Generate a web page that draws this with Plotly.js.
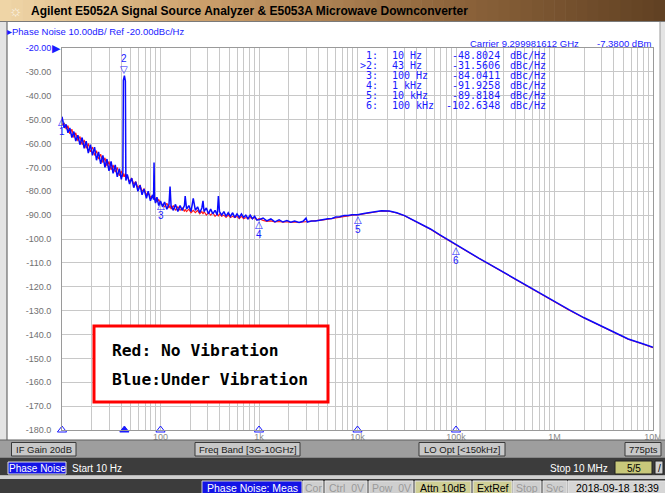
<!DOCTYPE html>
<html><head><meta charset="utf-8">
<script src="https://cdn.plot.ly/plotly-3.0.1.min.js"></script>
<style>html,body{margin:0;padding:0;background:#fff;overflow:hidden}#chart{width:665px;height:493px}</style>
</head><body><div id="chart"></div>
<script>
// ---------- data ----------
const freqHz = [
  10, 10.5, 11, 11.5, 12, 12.6, 13.2, 13.8, 14.5, 15.2,
  16, 16.8, 17.6, 18.5, 19.4, 20.4, 21.4, 22.4, 23.5, 24.7,
  26, 27.3, 28.6, 30, 31.5, 33, 34.7, 36.4, 38.2, 40,
  41.5, 42.0, 43, 44.0, 44.5, 46, 48.5, 51, 53.5, 56,
  59, 62, 65, 68, 72, 75, 79, 83, 85, 86,
  87, 89, 92, 96, 100,
  105, 110, 116, 122, 125, 128, 135, 142, 150, 158,
  166, 175, 178, 184, 194, 204, 215, 226, 238, 250,
  263, 270, 277, 292, 307, 323, 340, 358, 377, 387,
  397, 418, 440, 463, 487, 513, 540, 568, 598, 630,
  663, 698, 735, 773, 814, 857, 902, 950, 1000,
  1100, 1200, 1320, 1450, 1600, 1750, 1920, 2100, 2300, 2550,
  2800, 3000, 3100, 3400, 3750, 4100, 4500, 5000, 5500, 6000,
  6600, 7300, 8000, 8800, 9600, 10000,
  12000, 14500, 17500, 21000, 25000, 30000, 37000, 45000, 55000, 68000,
  82000, 100000, 130000, 170000, 220000, 300000, 400000, 550000, 750000, 1000000,
  1400000, 2000000, 2800000, 4000000, 5600000, 8000000, 10000000
];
// Blue: Under Vibration (dBc/Hz)
const blueUnderVibration = [
  -48.8, -53.5, -52, -55.5, -53.5, -57.5, -55, -59, -56.5, -60.5,
  -57.5, -62, -59, -64, -60.5, -65, -61.5, -67, -63.5, -68.5,
  -65, -70, -66.5, -71.5, -67.5, -72.5, -69, -74, -70.5, -75,
  -72, -33.5, -31.56, -33.8, -75.5, -73, -77, -74.5, -78.5, -76,
  -80, -77.5, -81.5, -79, -83, -80, -84, -81.5, -83.5, -68,
  -83, -85, -82.5, -86, -84.04,
  -86.5, -84.5, -87.5, -85.5, -78, -86, -88, -85.5, -88.5, -86,
  -88, -86, -82, -87.5, -86, -88.5, -83, -88, -86.5, -89,
  -87, -84, -88.5, -87, -89.5, -87.5, -89.5, -88, -90, -82,
  -88.5, -90, -88.5, -90.5, -89, -90.5, -89, -91, -89.5, -91,
  -89.5, -91, -90, -91.5, -90, -91.5, -90.5, -92, -91.93,
  -91.2, -92.4, -91.6, -92.8, -92, -92.9, -92.3, -93, -92.5, -93.1,
  -92.6, -91.3, -92.9, -92.5, -92.5, -92.1, -92, -91.5, -91.4, -90.8,
  -90.7, -90.2, -90.2, -89.8, -89.8, -89.82,
  -89.2, -88.6, -88.2, -88.3, -89.0, -90.2, -92.2, -94.0, -95.8, -98.2,
  -100.2, -102.63, -105.3, -108.0, -110.6, -113.8, -116.8, -120.3, -123.5, -126.3,
  -129.6, -133.0, -136.0, -139.2, -141.9, -144.0, -145.4
];
// Red: No Vibration (dBc/Hz)
const redNoVibration = [
  -52, -51.5, -54, -52.5, -56, -54, -57.5, -55.5, -59, -57,
  -60.5, -58.5, -62, -60, -63.5, -61.5, -65, -63, -66.5, -64.5,
  -68, -66, -69.5, -67.5, -71, -69, -72, -70, -73.5, -71.5,
  -74, -72.5, -74, -72.5, -74.5, -73.5, -76, -74.5, -77, -76,
  -78.5, -77.5, -80, -79, -81.5, -80.5, -82.5, -82, -83, -82.5,
  -83.5, -83, -84.5, -83.5, -85,
  -85.5, -86.5, -85, -87, -86, -87.5, -86, -88, -86.5, -88,
  -87, -88.5, -87.5, -88.5, -87.5, -89, -88, -89, -88, -89.5,
  -88.5, -89.5, -88.5, -90, -89, -90, -89, -90.5, -89.5, -90.5,
  -89.5, -90.5, -90, -91, -90, -91, -90.5, -91, -90.5, -91.5,
  -90.5, -91.5, -91, -91.5, -91, -91.5, -91, -92, -91.5,
  -92.2, -92.6, -92.4, -92.9, -92.7, -93, -92.8, -93.1, -92.9, -93.1,
  -92.9, -92.8, -92.8, -92.6, -92.5, -92.2, -92, -91.7, -91.4, -91,
  -90.7, -90.4, -90.2, -90, -89.8, -89.9,
  -89.4, -88.7, -88.3, -88.4, -89.1, -90.3, -92.3, -94.1, -95.9, -98.3,
  -100.3, -102.7, -105.4, -108.1, -110.7, -113.9, -116.9, -120.4, -123.6, -126.4,
  -129.7, -133.1, -136.1, -139.3, -142.0, -144.1, -145.5
];
const markerNum = ['1', '2', '3', '4', '5', '6'];
const markerFreq = [10, 43, 100, 1000, 10000, 100000];
const markerFreqLabel = ['10 Hz', '43 Hz', '100 Hz', '1 kHz', '10 kHz', '100 kHz'];
const markerValue = [-48.8024, -31.5606, -84.0411, -91.9258, -89.8184, -102.6348];
const activeMarker = 1;
const xTickVals = [100, 1000, 10000, 100000, 1000000, 10000000];
const xTickText = ['100', '1k', '10k', '100k', '1M', '10M'];
const yTickVals = [-20, -30, -40, -50, -60, -70, -80, -90, -100, -110, -120, -130, -140, -150, -160, -170, -180];
const yTickText = ['<span style="color:#1a1aff">-20.00</span>', '-30.00', '-40.00', '-50.00', '-60.00', '-70.00', '-80.00', '-90.00',
  '-100.0', '-110.0', '-120.0', '-130.0', '-140.0', '-150.0', '-160.0', '-170.0', '-180.0'];
const legendLines = ['Red: No Vibration', 'Blue:Under Vibration'];
const headerTitle = 'Agilent E5052A Signal Source Analyzer &amp; E5053A Microwave Downconverter';
const scaleText = '\u25B8Phase Noise 10.00dB/ Ref -20.00dBc/Hz';
const carrierText = 'Carrier 9.299981612 GHz';
const powerText = '-7.3800 dBm';

// ---------- geometry helpers ----------
const L = 62, R = 653, T = 48, B = 430;
const px = x => (x - L) / (R - L), py = y => (B - y) / (B - T);
const shapes = [], annotations = [];
const SANS = 'Liberation Sans, Arial, sans-serif';
function rect(x0, y0, x1, y1, fill, line, lw) {
  shapes.push({type: 'rect', xref: 'paper', yref: 'paper', x0: px(x0), x1: px(x1), y0: py(y1), y1: py(y0),
    fillcolor: fill, line: {color: line || fill, width: lw || 0}, layer: 'above'});
}
function txt(x, y, text, size, color, anchor, extra) {
  annotations.push(Object.assign({xref: 'paper', yref: 'paper', x: px(x), y: py(y), text: text, showarrow: false,
    xanchor: anchor || 'left', yanchor: 'middle', font: {family: SANS, size: size, color: color}}, extra || {}));
}
function button(x0, y0, x1, y1, label, bg, border, color, size) {
  rect(x0, y0, x1, y1, bg, border, 1);
  txt((x0 + x1) / 2, (y0 + y1) / 2 + 0.5, label, size, color, 'center');
}

// ---------- frame ----------
const stops = [[0, [240, 214, 168]], [0.3, [204, 160, 108]], [0.65, [146, 104, 62]], [1, [96, 64, 34]]];
function grad(t) {
  for (let i = 1; i < stops.length; i++) {
    if (t <= stops[i][0]) {
      const a = stops[i - 1], b = stops[i], f = (t - a[0]) / (b[0] - a[0]);
      return 'rgb(' + a[1].map((v, k) => Math.round(v + (b[1][k] - v) * f)).join(',') + ')';
    }
  }
  return 'rgb(96,64,34)';
}
const N = 60;
for (let i = 0; i < N; i++) {
  const x0 = i * 665 / N, x1 = (i + 1) * 665 / N + 0.6;
  rect(x0, 0, x1, 21, grad((i + 0.5) / N));
}
rect(0, 21, 665, 22, '#7a7a7a');
rect(0, 22, 7, 440, '#e4e4e4');
rect(6.5, 22, 7.5, 440, '#505050');
rect(660, 22, 665, 440, '#e4e4e4');
rect(659.5, 22, 660.5, 440, '#9a9a9a');
txt(16, 10.5, '\u263C', 15, '#fbf4e6', 'center');
txt(29, 11, '<b>' + headerTitle + '</b>', 12, '#000000');
txt(5, 31.5, scaleText, 9.5, '#1a1aff');
txt(581, 43.5, carrierText, 9.5, '#1a1aff', 'right');
txt(653, 43.5, powerText, 9.5, '#1a1aff', 'right');

// bottom bars
rect(0, 440, 665, 457.5, '#9e9e9e');
rect(0, 439.5, 665, 440.5, '#606060');
rect(0, 457.5, 665, 475.5, '#3c3c3c');
rect(0, 475.5, 665, 479, '#d0d0d0');
rect(0, 479, 665, 493, '#3c3c3c');
button(11.5, 442.5, 76, 456, 'IF Gain 20dB', '#c8c8c8', '#3a3a3a', '#202020', 9.5);
button(195, 442.5, 300, 456, 'Freq Band [3G-10GHz]', '#c8c8c8', '#3a3a3a', '#202020', 9.5);
button(419, 442.5, 505, 456, 'LO Opt [&lt;150kHz]', '#c8c8c8', '#3a3a3a', '#202020', 9.5);
button(625, 442.5, 661, 456, '775pts', '#c8c8c8', '#3a3a3a', '#202020', 9.5);
button(8, 462, 66, 474, 'Phase Noise', '#1414e6', '#e0e0e0', '#ffffff', 10);
txt(70, 468, 'Start 10 Hz', 10, '#ffffff');
txt(610, 468, 'Stop 10 MHz', 10, '#ffffff', 'right');
button(615, 461, 652, 474, '5/5', '#c8c87a', '#202020', '#000000', 10);
button(655, 461, 663, 474, '/', '#d0d0d0', '#202020', '#000000', 10);
button(202, 481, 302, 493.5, 'Phase Noise: Meas', '#1414e6', '#d0d0d0', '#ffffff', 10.5);
button(303, 481, 323, 493.5, 'Cor', '#cfcfcf', '#e8e8e8', '#9a9a9a', 10.5);
button(325, 481, 367, 493.5, 'Ctrl  0V', '#cfcfcf', '#e8e8e8', '#9a9a9a', 10.5);
button(369, 481, 413, 493.5, 'Pow  0V', '#cfcfcf', '#e8e8e8', '#9a9a9a', 10.5);
button(415, 481, 471, 493.5, 'Attn 10dB', '#cfcf96', '#e8e8e8', '#000000', 10.5);
button(473, 481, 512, 493.5, 'ExtRef', '#cfcf96', '#e8e8e8', '#000000', 10.5);
button(513, 481, 541, 493.5, 'Stop', '#cfcfcf', '#e8e8e8', '#9a9a9a', 10.5);
button(543, 481, 567, 493.5, 'Svc', '#cfcfcf', '#e8e8e8', '#9a9a9a', 10.5);
button(568, 481, 666, 493.5, '2018-09-18 18:39', '#d6d6d6', '#e8e8e8', '#000000', 10.5);

// marker table
markerNum.forEach((m, i) => {
  const y = 55 + i * 10.1;
  const mono = {family: 'DejaVu Sans Mono, monospace', size: 10, color: '#1a1aff'};
  annotations.push({xref: 'paper', yref: 'paper', x: px(379.5), y: py(y), text: (i === activeMarker ? '>' : '') + m + ':', showarrow: false, xanchor: 'right', yanchor: 'middle', font: mono});
  annotations.push({xref: 'paper', yref: 'paper', x: px(390), y: py(y), text: markerFreqLabel[i], showarrow: false, xanchor: 'left', yanchor: 'middle', font: mono});
  annotations.push({xref: 'paper', yref: 'paper', x: px(502), y: py(y), text: markerValue[i].toFixed(4), showarrow: false, xanchor: 'right', yanchor: 'middle', font: mono});
  annotations.push({xref: 'paper', yref: 'paper', x: px(508), y: py(y), text: 'dBc/Hz', showarrow: false, xanchor: 'left', yanchor: 'middle', font: mono});
});

// markers on trace
markerFreq.forEach((f, i) => {
  const up = i !== activeMarker;
  const base = {xref: 'x', yref: 'y', x: Math.log10(f), y: markerValue[i], showarrow: false, xanchor: 'center', yanchor: 'middle'};
  annotations.push(Object.assign({}, base, {text: up ? '\u25B3' : '\u25BD', yshift: up ? -5 : 6,
    font: {family: 'DejaVu Sans', size: 10, color: '#1a1aff'}}));
  annotations.push(Object.assign({}, base, {text: markerNum[i], yshift: up ? -15 : 17,
    font: {family: SANS, size: 10, color: '#1a1aff'}}));
});
annotations.push({xref: 'paper', yref: 'y', x: px(56.5), y: -20, text: '\u25B6', showarrow: false, xanchor: 'center', yanchor: 'middle',
  font: {family: 'DejaVu Sans', size: 11, color: '#1a1aff'}});

// legend box
shapes.push({type: 'rect', xref: 'paper', yref: 'paper', x0: px(94), x1: px(328), y0: py(402), y1: py(326),
  fillcolor: '#ffffff', line: {color: '#ff0000', width: 3}, layer: 'above'});
legendLines.forEach((t, i) => {
  annotations.push({xref: 'paper', yref: 'paper', x: px(110), y: py(350.5 + i * 29), text: '<b>' + t + '</b>', showarrow: false,
    xanchor: 'left', yanchor: 'middle', font: {family: 'DejaVu Sans Mono, monospace', size: 16.3, color: '#000000'}});
});

// minor grid positions (2..9 per decade)
const minorVals = [];
for (let d = 1; d < 7; d++) for (let k = 2; k < 10; k++) minorVals.push(k * Math.pow(10, d));

const traces = [
  {x: freqHz, y: redNoVibration, type: 'scatter', mode: 'lines', line: {color: '#ff1a1a', width: 1.1}, name: 'No Vibration'},
  {x: freqHz, y: blueUnderVibration, type: 'scatter', mode: 'lines', line: {color: '#0a0aff', width: 1.5}, name: 'Under Vibration'},
  // marker indicators on the frequency axis
  {x: markerFreq, y: markerFreq.map(() => -180), type: 'scatter', mode: 'markers', cliponaxis: false,
    marker: {symbol: markerFreq.map((f, i) => i === activeMarker ? 'triangle-up' : 'triangle-up-open'),
      size: 8, color: '#1a1aff', line: {color: '#1a1aff', width: 1}}, name: 'markers'}
];

const layout = {
  width: 665, height: 493,
  margin: {l: L, r: 665 - R, t: T, b: 493 - B, pad: 0},
  paper_bgcolor: '#ffffff', plot_bgcolor: '#ffffff',
  showlegend: false,
  xaxis: {type: 'log', range: [1, 7], tickmode: 'array', tickvals: xTickVals, ticktext: xTickText,
    ticks: '', showgrid: true, gridcolor: '#c8c8c8', gridwidth: 1, zeroline: false,
    showline: true, mirror: true, linecolor: '#9a9a9a', linewidth: 1, automargin: false,
    tickfont: {family: SANS, size: 9, color: '#8a8a8a'}, ticklabelstandoff: -2,
    minor: {tickmode: 'array', tickvals: minorVals, showgrid: true, gridcolor: '#c8c8c8', gridwidth: 1, ticks: ''}},
  yaxis: {range: [-180, -20], tickmode: 'array', tickvals: yTickVals, ticktext: yTickText,
    ticks: '', showgrid: true, gridcolor: '#c8c8c8', gridwidth: 1, zeroline: false,
    showline: true, mirror: true, linecolor: '#9a9a9a', linewidth: 1, automargin: false,
    tickfont: {family: SANS, size: 9, color: '#707070'}, ticklabelstandoff: 8},
  shapes: shapes,
  annotations: annotations
};
Plotly.newPlot('chart', traces, layout, {staticPlot: true, displayModeBar: false});
</script></body></html>
